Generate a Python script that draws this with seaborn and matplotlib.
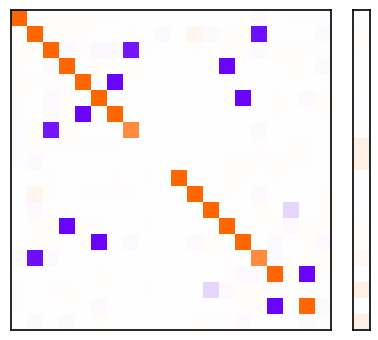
import numpy as np
import pandas as pd
import matplotlib
matplotlib.use("Agg")
import matplotlib.pyplot as plt
import seaborn as sns
from matplotlib.colors import LinearSegmentedColormap

# 20x20 matrix values (row by row)
row00 = [1.00, 0.00, 0.01, 0.01, 0.01, 0.01, -0.01, 0.00, 0.00, 0.00, 0.00, 0.00, 0.00, 0.00, 0.00, -0.02, 0.00, 0.01, 0.01, -0.01]
row01 = [0.00, 1.00, 0.03, 0.01, 0.01, 0.00, 0.00, 0.02, 0.00, -0.02, 0.00, 0.06, -0.02, 0.01, 0.02, -0.94, 0.00, 0.00, 0.00, -0.02]
row02 = [0.01, 0.02, 1.00, -0.02, 0.01, -0.03, -0.03, -0.91, 0.01, 0.00, 0.00, 0.01, 0.00, 0.01, 0.02, -0.02, 0.01, 0.01, 0.01, 0.01]
row03 = [0.01, 0.00, -0.02, 1.00, 0.00, 0.02, 0.00, 0.02, 0.00, 0.00, 0.00, 0.00, 0.00, -0.98, 0.00, 0.00, 0.00, 0.02, 0.00, -0.02]
row04 = [0.01, 0.01, 0.01, 0.01, 1.00, 0.00, -0.98, 0.00, 0.00, 0.00, 0.00, 0.00, 0.00, 0.00, 0.00, 0.00, 0.00, 0.00, 0.00, 0.00]
row05 = [0.01, 0.00, -0.02, 0.02, 0.00, 1.00, 0.00, 0.00, 0.00, 0.00, 0.00, 0.00, 0.00, 0.01, -0.98, 0.00, 0.02, 0.00, -0.02, 0.02]
row06 = [-0.01, 0.00, -0.02, 0.00, -0.98, 0.00, 1.00, 0.00, 0.00, 0.00, 0.00, 0.00, 0.00, 0.00, 0.00, 0.00, 0.01, 0.00, 0.00, 0.01]
row07 = [-0.01, 0.02, -0.91, 0.02, 0.00, 0.00, 0.00, 0.75, 0.00, 0.00, 0.00, 0.00, 0.00, 0.00, 0.00, -0.02, 0.00, 0.00, 0.00, 0.00]
row08 = [-0.01, 0.01, 0.01, 0.01, 0.01, 0.01, 0.01, 0.00, 0.00, 0.00, 0.00, 0.00, 0.00, 0.00, 0.00, 0.01, 0.00, 0.02, 0.01, 0.00]
row09 = [-0.01, -0.02, 0.00, 0.00, 0.00, 0.00, 0.00, 0.00, 0.00, 0.00, 0.00, 0.00, 0.00, 0.01, 0.01, 0.01, 0.01, 0.01, 0.01, 0.00]
row10 = [0.00, 0.00, 0.01, 0.00, 0.00, 0.00, 0.01, 0.00, 0.01, 0.00, 1.00, 0.00, 0.00, 0.01, 0.01, 0.00, 0.01, 0.00, 0.00, 0.00]
row11 = [0.00, 0.06, 0.01, 0.00, 0.01, 0.01, 0.01, 0.01, 0.00, 0.00, 0.00, 1.00, 0.00, 0.01, 0.00, -0.02, 0.00, 0.00, 0.00, 0.02]
row12 = [0.00, -0.02, 0.00, 0.00, 0.00, 0.00, 0.00, 0.00, 0.00, 0.00, 0.00, 0.00, 1.00, 0.00, 0.00, 0.02, 0.00, -0.16, 0.00, 0.01]
row13 = [0.00, 0.02, 0.01, -0.98, 0.01, 0.01, 0.00, 0.00, 0.01, 0.00, 0.00, 0.00, 0.00, 1.00, 0.00, 0.00, 0.01, -0.02, 0.01, 0.02]
row14 = [0.00, 0.02, 0.02, 0.00, 0.00, -0.98, 0.00, -0.02, 0.00, 0.00, 0.00, -0.02, 0.02, 0.00, 1.00, 0.00, -0.02, 0.00, 0.02, -0.02]
row15 = [-0.02, -0.94, -0.02, 0.00, 0.00, 0.00, 0.00, 0.00, 0.00, 0.00, 0.00, 0.00, 0.00, 0.01, 0.00, 0.75, -0.02, 0.00, 0.02, 0.02]
row16 = [0.00, 0.00, 0.00, 0.00, 0.00, 0.02, 0.00, 0.00, 0.00, 0.00, 0.00, 0.00, 0.00, 0.01, -0.02, -0.02, 1.00, 0.00, -0.98, 0.02]
row17 = [0.01, 0.00, 0.01, 0.02, 0.00, 0.00, 0.00, 0.00, 0.01, 0.00, 0.00, 0.00, -0.16, -0.02, 0.01, 0.01, 0.01, 0.00, 0.00, 0.00]
row18 = [0.01, 0.00, 0.00, 0.00, 0.00, -0.02, 0.00, 0.00, 0.00, 0.00, 0.00, 0.00, 0.00, 0.00, 0.02, 0.00, -0.98, 0.00, 1.00, -0.02]
row19 = [0.00, -0.02, 0.00, -0.02, 0.00, 0.02, 0.00, 0.00, 0.00, 0.00, 0.00, 0.02, 0.01, 0.02, -0.02, 0.00, 0.00, 0.00, -0.02, 0.01]

# single-column side strip
strip_values = [-0.01, 0.01, 0.01, -0.01, 0.01, -0.01, -0.01, 0.03, 0.10, 0.10,
                -0.01, -0.01, -0.01, 0.01, 0.01, 0.04, 0.00, 0.10, 0.00, 0.10]

matrix = np.array([row00, row01, row02, row03, row04, row05, row06, row07, row08, row09,
                   row10, row11, row12, row13, row14, row15, row16, row17, row18, row19])
strip = np.array(strip_values).reshape(-1, 1)

cmap = LinearSegmentedColormap.from_list("po", ["#6600ff", "#ffffff", "#ff6600"])

fig = plt.figure(figsize=(3.78, 3.40), dpi=100)
ax = fig.add_axes([10.5 / 378, 10 / 340, 320 / 378, 320 / 340])
ax2 = fig.add_axes([353 / 378, 10 / 340, 16.5 / 378, 320 / 340])

sns.heatmap(matrix, ax=ax, cmap=cmap, vmin=-1, vmax=1, cbar=False,
            xticklabels=False, yticklabels=False)
sns.heatmap(strip, ax=ax2, cmap=cmap, vmin=-1, vmax=1, cbar=False,
            xticklabels=False, yticklabels=False)

for a in (ax, ax2):
    for s in a.spines.values():
        s.set_visible(True)
        s.set_color("black")
        s.set_linewidth(1.2)
    a.set_xticks([])
    a.set_yticks([])

fig.savefig("out.png", dpi=100)
